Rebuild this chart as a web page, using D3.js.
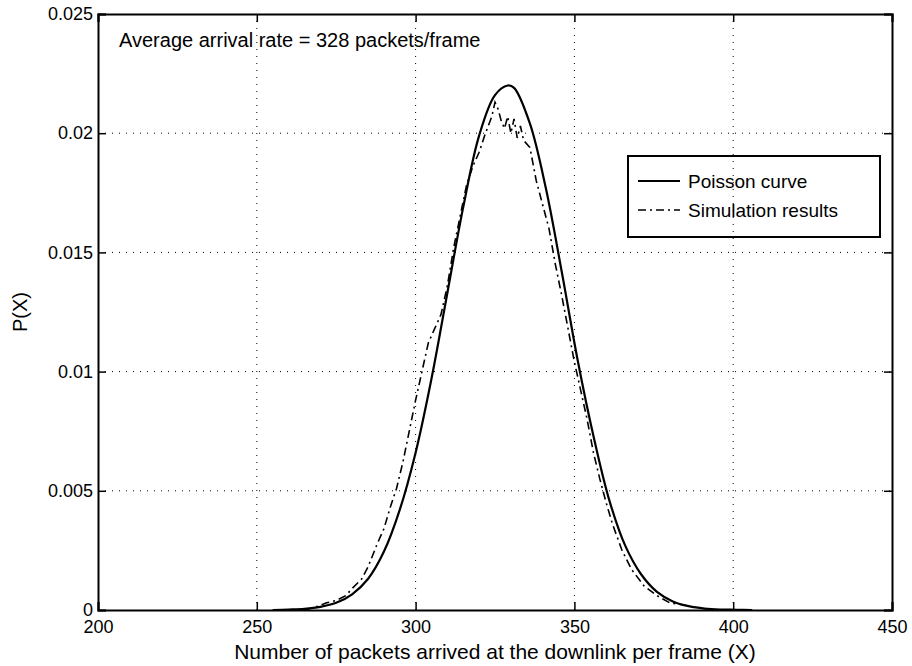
<!DOCTYPE html>
<meta charset="utf-8">
<style type="text/css">
  body { margin:0; background:#ffffff; }
  text { font-family: 'Liberation Sans', Arial, sans-serif; fill:#000000; }
</style>
<script src="https://d3js.org/d3.v7.min.js"></script>
<body>
<div id="chart"></div>
</body>
<script>

// axis ticks
var xTicks = [200, 250, 300, 350, 400, 450]
var yTicks = [0, 0.005, 0.01, 0.015, 0.02, 0.025]
var yTickLabels = ["0", "0.005", "0.01", "0.015", "0.02", "0.025"]

// Poisson curve
var poissonX = [255, 260, 265, 270, 275, 280, 285, 290, 295, 300, 305, 310, 315, 320, 325, 329, 331, 336, 341, 346, 351, 356, 361, 366, 371, 376, 381, 386, 391, 396, 401, 406]
var poissonY = [0.0000, 0.00002, 0.00005, 0.00013, 0.0003, 0.00066, 0.0013, 0.00244, 0.0042, 0.0066, 0.0097, 0.0133, 0.0169, 0.0199, 0.0216, 0.0220, 0.0219, 0.0204, 0.0177, 0.0142, 0.0105, 0.0073, 0.0046, 0.0027, 0.0015, 0.00076, 0.00036, 0.00016, 0.00006, 0.00002, 0.00001, 0.0000]

// Simulation results
var simX = [265, 268, 270, 272, 275, 278, 280, 283, 285, 288, 290, 292, 294, 296, 298, 300, 302, 304, 306, 308, 310, 312, 314, 316, 318, 320, 322, 324, 325, 326, 327, 328, 329, 330, 331, 332, 333, 334, 336, 338, 340, 342, 344, 346, 348, 350, 352, 354, 356, 358, 360, 362, 365, 368, 372, 376, 380, 385]
var simY = [0.0000, 0.0001, 0.0002, 0.0003, 0.0004, 0.0006, 0.0009, 0.0013, 0.0018, 0.0028, 0.0034, 0.0043, 0.0051, 0.0062, 0.0075, 0.0088, 0.0100, 0.0112, 0.0118, 0.0124, 0.0136, 0.0152, 0.0165, 0.0178, 0.0186, 0.0192, 0.0200, 0.0207, 0.0213, 0.0210, 0.0205, 0.0202, 0.0207, 0.0200, 0.0206, 0.0198, 0.0203, 0.0197, 0.0194, 0.0180, 0.0170, 0.0160, 0.0145, 0.0132, 0.0118, 0.0104, 0.0092, 0.0080, 0.0066, 0.0055, 0.0045, 0.0036, 0.0025, 0.0017, 0.0010, 0.0006, 0.0003, 0.0002]

var seriesNames = ["Poisson curve", "Simulation results"]

var width = 912
    height = 666

var svg = d3.select("#chart")
  .append("svg")
    .attr("width", width)
    .attr("height", height)

var x = d3.scaleLinear().domain([200, 450]).range([98, 892])
var y = d3.scaleLinear().domain([0, 0.025]).range([610, 14])

// dotted grid
svg.append("g").selectAll("line")
  .data(xTicks.slice(1, -1))
  .enter().append("line")
    .attr("x1", function(d){ return x(d) })
    .attr("x2", function(d){ return x(d) })
    .attr("y1", y(0))
    .attr("y2", y(0.025))
    .attr("stroke", "#000")
    .attr("stroke-width", 1)
    .attr("stroke-dasharray", "1,6")

svg.append("g").selectAll("line")
  .data(yTicks.slice(1, -1))
  .enter().append("line")
    .attr("x1", x(200))
    .attr("x2", x(450))
    .attr("y1", function(d){ return y(d) })
    .attr("y2", function(d){ return y(d) })
    .attr("stroke", "#000")
    .attr("stroke-width", 1)
    .attr("stroke-dasharray", "1,6")

// axes, ticks pointing inward on all four sides
var bottom = svg.append("g")
  .attr("transform", "translate(0," + y(0) + ")")
  .call(d3.axisBottom(x).tickValues(xTicks).tickSize(-8).tickPadding(10).tickFormat(d3.format("d")))
var top = svg.append("g")
  .attr("transform", "translate(0," + y(0.025) + ")")
  .call(d3.axisTop(x).tickValues(xTicks).tickSize(-8).tickFormat(""))
var left = svg.append("g")
  .attr("transform", "translate(" + x(200) + ",0)")
  .call(d3.axisLeft(y).tickValues(yTicks).tickSize(-8).tickPadding(5)
    .tickFormat(function(d, i){ return yTickLabels[i] }))
var right = svg.append("g")
  .attr("transform", "translate(" + x(450) + ",0)")
  .call(d3.axisRight(y).tickValues(yTicks).tickSize(-8).tickFormat(""))

svg.selectAll(".domain").attr("stroke", "#000").attr("stroke-width", 2)
svg.selectAll(".tick line").attr("stroke", "#000").attr("stroke-width", 1.5)
svg.selectAll(".tick text")
  .style("font-family", "'Liberation Sans', Arial, sans-serif")
  .style("font-size", "18px")
  .attr("fill", "#000")
left.selectAll(".tick text").attr("x", -5)

// curves
var line = d3.line()
  .x(function(d){ return x(d[0]) })
  .y(function(d){ return y(d[1]) })

svg.append("path")
  .datum(d3.zip(poissonX, poissonY))
  .attr("d", line.curve(d3.curveCatmullRom))
  .attr("fill", "none")
  .attr("stroke", "#000")
  .attr("stroke-width", 2.2)

svg.append("path")
  .datum(d3.zip(simX, simY))
  .attr("d", line.curve(d3.curveLinear))
  .attr("fill", "none")
  .attr("stroke", "#000")
  .attr("stroke-width", 1.6)
  .attr("stroke-dasharray", "8,4,2,4")

// annotation
svg.append("text")
  .attr("x", 119)
  .attr("y", 47)
  .style("font-size", "20px")
  .text("Average arrival rate = 328 packets/frame")

// axis titles
svg.append("text")
  .attr("x", (x(200) + x(450)) / 2)
  .attr("y", 659)
  .attr("text-anchor", "middle")
  .style("font-size", "21px")
  .text("Number of packets arrived at the downlink per frame (X)")

svg.append("text")
  .attr("transform", "translate(27," + y(0.0125) + ") rotate(-90)")
  .attr("text-anchor", "middle")
  .style("font-size", "20px")
  .text("P(X)")

// legend
var lg = svg.append("g")
lg.append("rect")
  .attr("x", 628)
  .attr("y", 156)
  .attr("width", 252)
  .attr("height", 81)
  .attr("fill", "none")
  .attr("stroke", "#000")
  .attr("stroke-width", 2)

lg.selectAll("line")
  .data(seriesNames)
  .enter().append("line")
    .attr("x1", 638)
    .attr("x2", 680)
    .attr("y1", function(d, i){ return 181 + i * 29 })
    .attr("y2", function(d, i){ return 181 + i * 29 })
    .attr("stroke", "#000")
    .attr("stroke-width", function(d, i){ return i == 0 ? 2 : 1.6 })
    .attr("stroke-dasharray", function(d, i){ return i == 0 ? null : "8,4,2,4" })

lg.selectAll("text")
  .data(seriesNames)
  .enter().append("text")
    .attr("x", 688)
    .attr("y", function(d, i){ return 188 + i * 29 })
    .style("font-size", "19px")
    .text(function(d){ return d })

</script>
